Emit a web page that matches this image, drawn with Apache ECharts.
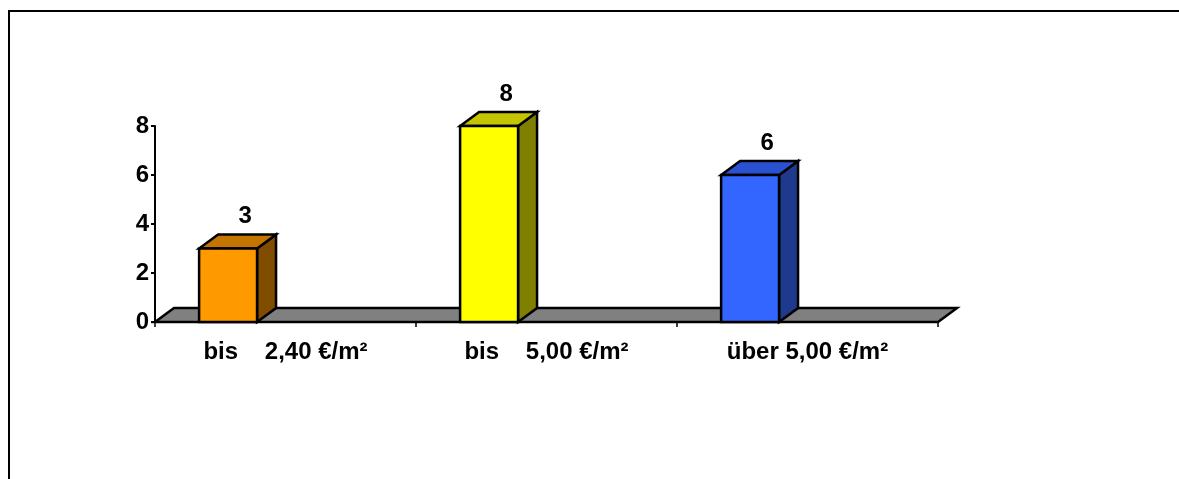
<!DOCTYPE html>
<html>
<head>
<meta charset="utf-8">
<script src="https://cdn.jsdelivr.net/npm/echarts@6/dist/echarts.min.js"></script>
<style>
  html, body { margin: 0; padding: 0; background: #fff; }
  #chart { width: 1179px; height: 479px; }
</style>
</head>
<body>
<div id="chart"></div>
<script>
var categories = ["bis    2,40 €/m²", "bis    5,00 €/m²", "über 5,00 €/m²"];
var values = [3, 8, 6];
var frontColors = ["#ff9900", "#ffff00", "#3366ff"];
var topColors = ["#c47400", "#c4c400", "#2a52d0"];
var sideColors = ["#7f4c00", "#808000", "#1f398c"];

// 3d depth offset
var DX = 19, DY = -14;
var FONT = "bold 24px Arial, 'Liberation Sans', sans-serif";

function renderFloor(params, api) {
  var cs = params.coordSys;
  var y0 = cs.y + cs.height;
  return {
    type: "polygon",
    shape: { points: [[cs.x, y0], [cs.x + cs.width, y0], [cs.x + cs.width + DX, y0 + DY], [cs.x + DX, y0 + DY]] },
    style: { fill: "#808080", stroke: "#000", lineWidth: 2.5 }
  };
}

function renderBar(params, api) {
  var i = params.dataIndex;
  var cat = api.value(0), val = api.value(1);
  var base = api.coord([cat, 0]);
  var top = api.coord([cat, val]);
  var band = api.size([1, 0])[0];
  var x0 = base[0] - band / 2 + band * 0.169;
  var x1 = x0 + band * 0.222;
  var yb = base[1], yt = top[1];
  var line = { stroke: "#000", lineWidth: 2.5, lineJoin: "miter" };
  return {
    type: "group",
    children: [
      { type: "polygon", shape: { points: [[x1, yb], [x1 + DX, yb + DY], [x1 + DX, yt + DY], [x1, yt]] },
        style: Object.assign({ fill: sideColors[i] }, line) },
      { type: "polygon", shape: { points: [[x0, yt], [x1, yt], [x1 + DX, yt + DY], [x0 + DX, yt + DY]] },
        style: Object.assign({ fill: topColors[i] }, line) },
      { type: "rect", shape: { x: x0, y: yt, width: x1 - x0, height: yb - yt },
        style: Object.assign({ fill: frontColors[i] }, line) },
      { type: "text",
        style: { text: String(val), x: (x0 + x1) / 2 + 17, y: yt + DY - 6, align: "center", verticalAlign: "bottom",
                 font: FONT, fill: "#000" } }
    ]
  };
}

var chart = echarts.init(document.getElementById("chart"));
chart.setOption({
  animation: false,
  graphic: [{
    type: "rect", shape: { x: 9, y: 11, width: 1400, height: 700 },
    style: { fill: "none", stroke: "#000", lineWidth: 2 }, z: 100
  }],
  grid: { left: 155, right: 241, top: 126, bottom: 157 },
  xAxis: {
    type: "category",
    data: categories,
    axisLine: { show: false },
    axisTick: { show: true, length: 5, lineStyle: { color: "#000", width: 1.5 } },
    axisLabel: { color: "#000", fontWeight: "bold", fontSize: 24, fontFamily: "Arial", margin: 18 }
  },
  yAxis: {
    type: "value",
    min: 0, max: 8, interval: 2,
    splitLine: { show: false },
    axisLine: { show: true, lineStyle: { color: "#000", width: 2 } },
    axisTick: { show: true, length: 4, lineStyle: { color: "#000", width: 2 } },
    axisLabel: { color: "#000", fontWeight: "bold", fontSize: 24, fontFamily: "Arial", margin: 6 }
  },
  series: [
    { type: "custom", renderItem: renderFloor, data: [[0, 0]], z: 1, silent: true },
    { type: "custom", renderItem: renderBar, data: values.map(function (v, i) { return [i, v]; }), z: 2 }
  ]
});
</script>
</body>
</html>
